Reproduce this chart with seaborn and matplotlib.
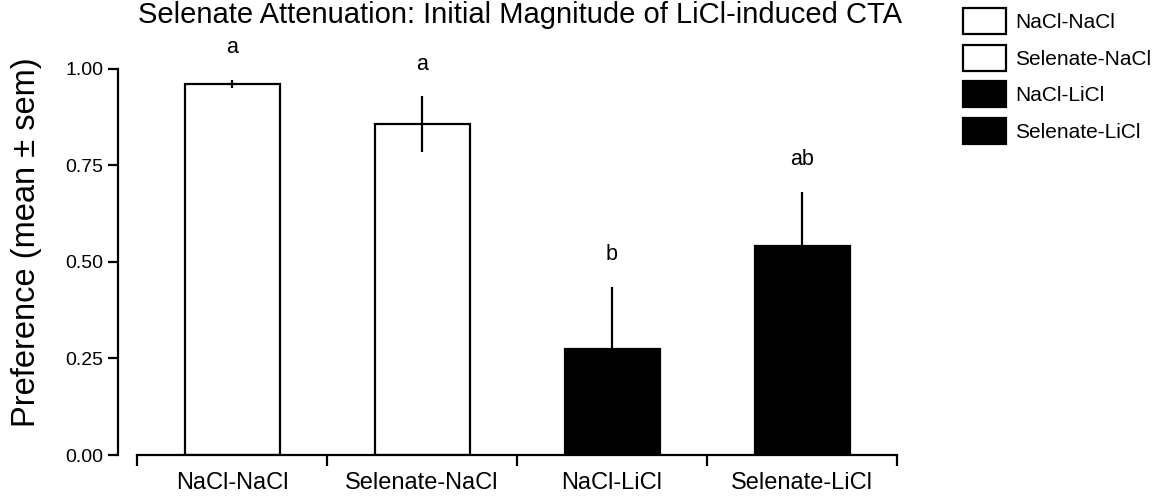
import seaborn as sns
import numpy as np
import pandas as pd
import matplotlib
matplotlib.use("Agg")
import matplotlib.pyplot as plt
from matplotlib.patches import Patch

# Data
groups = ["NaCl-NaCl", "Selenate-NaCl", "NaCl-LiCl", "Selenate-LiCl"]
pref_mean = [0.961, 0.856, 0.275, 0.541]
pref_sem = [0.010, 0.073, 0.160, 0.140]
letters = ["a", "a", "b", "ab"]
bar_colors = ["white", "white", "black", "black"]

df = pd.DataFrame({"Group": groups, "Preference": pref_mean})

sns.set_style("ticks")
plt.rcParams["font.family"] = ["Liberation Sans", "DejaVu Sans"]
plt.rcParams.update({"text.color": "black", "axes.labelcolor": "black",
                     "axes.edgecolor": "black", "xtick.color": "black",
                     "ytick.color": "black"})

fig = plt.figure(figsize=(11.64, 4.96), dpi=100)
ax = fig.add_axes([137 / 1164, 41 / 496, 760 / 1164, 425 / 496])

sns.barplot(data=df, x="Group", y="Preference", hue="Group", palette=bar_colors,
            width=0.5, edgecolor="black", linewidth=1.6, legend=False, ax=ax)

# error bars (sem) without caps
ax.errorbar(np.arange(len(groups)), pref_mean, yerr=pref_sem, fmt="none",
            ecolor="black", elinewidth=1.6, capsize=0, zorder=5)

# significance letters
for i, (m, s, lab) in enumerate(zip(pref_mean, pref_sem, letters)):
    ax.text(i, m + s + 0.083, lab, ha="center", va="center", fontsize=15.5)

ax.set_xlim(-0.5, 3.5)
ax.set_ylim(0, 1.1)

# axes styling
for side in ["top", "right"]:
    ax.spines[side].set_visible(False)
ax.spines["left"].set_position(("outward", 14))
ax.spines["left"].set_bounds(0, 1)
ax.spines["left"].set_linewidth(1.6)
ax.spines["bottom"].set_linewidth(1.6)

ax.set_yticks([0, 0.25, 0.5, 0.75, 1.0])
ax.set_yticklabels(["0.00", "0.25", "0.50", "0.75", "1.00"])
ax.tick_params(axis="y", length=7, width=1.6, labelsize=14, pad=3)

# x: boundary ticks, labels centred between them
ax.set_xticks([-0.5, 0.5, 1.5, 2.5, 3.5])
ax.set_xticklabels([])
ax.set_xticks(range(len(groups)), minor=True)
ax.set_xticklabels(groups, minor=True)
ax.tick_params(axis="x", which="major", length=8, width=1.6)
ax.tick_params(axis="x", which="minor", length=0, labelsize=17, pad=12)

ax.set_xlabel("")
ax.set_ylabel("Preference (mean ± sem)", fontsize=23.5)
ax.yaxis.set_label_coords(-0.125, 0.5)

fig.text(520 / 1164, 1 - 23 / 496, "Selenate Attenuation: Initial Magnitude of LiCl-induced CTA",
         ha="center", va="baseline", fontsize=21)

handles = [Patch(facecolor=c, edgecolor="black", linewidth=1.6, label=g)
           for g, c in zip(groups, bar_colors)]
fig.legend(handles=handles, loc="upper left", bbox_to_anchor=(955 / 1164, 1.0),
           frameon=False, fontsize=15, handlelength=2.05, handleheight=1.55,
           handletextpad=0.42, labelspacing=0.5, borderaxespad=0)

plt.savefig("out.png", dpi=100)
